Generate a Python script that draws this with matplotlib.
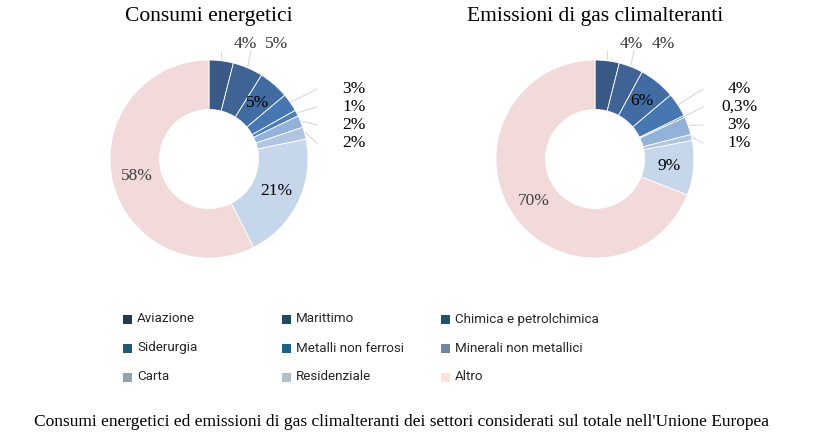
import matplotlib.pyplot as plt
from matplotlib.patches import Rectangle
from matplotlib import font_manager
import numpy as np

W, H = 832, 442

settori = ['Aviazione', 'Marittimo', 'Chimica e petrolchimica', 'Siderurgia',
           'Metalli non ferrosi', 'Minerali non metallici', 'Carta', 'Residenziale', 'Altro']
consumi = [4, 5, 5, 3, 1, 2, 2, 21, 58]
emissioni = [4, 4, 6, 4, 0.3, 3, 1, 9, 70]
etich_consumi = ['4%', '5%', '5%', '3%', '1%', '2%', '2%', '21%', '58%']
etich_emissioni = ['4%', '4%', '6%', '4%', '0,3%', '3%', '1%', '9%', '70%']

colori_fette = ['#3A5A85', '#3E6394', '#416CA3', '#4677B0', '#4B7DBA',
                '#93B2D9', '#AFC5E2', '#C6D6EB', '#F2D9DA']
colori_legenda = ['#1F3A56', '#1F4A66', '#1F5470', '#1F5A7B', '#1F6288',
                  '#6C88A0', '#8FA3B5', '#B4BFCB', '#FBE2DA']

serif = 'Liberation Serif'
sans = 'Roboto'
print(sorted({f.name for f in font_manager.fontManager.ttflist if 'Cond' in f.fname or 'Narrow' in f.fname}))
print(sorted({(f.name, f.stretch) for f in font_manager.fontManager.ttflist if 'DejaVu' in f.name or 'Liberation' in f.name}))

fig = plt.figure(figsize=(W / 100, H / 100), dpi=100)
R = 99


def donut(cx, cy, valori, etichette, titolo, x_lato, x_testo):
    left, right, top, bottom = cx - 200, cx + 200, cy - 158, cy + 135
    ax = fig.add_axes([left / W, 1 - bottom / H, (right - left) / W, (bottom - top) / H])
    ax.pie(valori, colors=colori_fette, startangle=90, counterclock=False, radius=1,
           wedgeprops=dict(width=0.5, edgecolor='white', linewidth=0.6))
    ax.set_xlim((left - cx) / R, (right - cx) / R)
    ax.set_ylim((cy - bottom) / R, (cy - top) / R)
    ax.set_aspect('auto')
    ax.axis('off')

    def d(px, py):
        return (px - cx) / R, (cy - py) / R

    v = np.array(valori, dtype=float)
    cum = np.cumsum(v) - v / 2
    ang = np.radians(cum / v.sum() * 360)  # senso orario dall'alto
    sx, sy = np.sin(ang), np.cos(ang)

    # etichette interne
    for i in [2, 7, 8]:
        col = '#404040' if i == 8 else 'black'
        ax.text(0.75 * sx[i], 0.75 * sy[i], etichette[i], ha='center', va='center',
                fontsize=12.5, family=serif, color=col)
    # etichette in alto (prime due fette)
    for i, (tx, dx_line) in enumerate([(cx + 36, 0), (cx + 68, 3)]):
        x1, y1 = d(cx + R * sx[i] + dx_line, 51)
        ax.plot([sx[i], x1], [sy[i] * 1.02, y1], color='#D9D9D9', lw=0.8)
        ax.text(*d(tx, 44), etichette[i], ha='center', va='center', fontsize=12.5,
                family=serif, color='#333333')
    # etichette a destra
    for k, i in enumerate([3, 4, 5, 6]):
        ly = 89 + 18 * k
        x1, y1 = d(x_lato, ly)
        ax.plot([sx[i] * 1.01, x1], [sy[i] * 1.01, y1], color='#D9D9D9', lw=0.8)
        ax.text(*d(x_testo, ly), etichette[i], ha='center', va='center', fontsize=12.5,
                family=serif, color='black')
    fig.text(cx / W, 1 - 17 / H, titolo, ha='center', va='center', fontsize=15.5,
             family=serif, color='black')


donut(209, 159, consumi, etich_consumi, 'Consumi energetici', 317, 354)
donut(595, 159, emissioni, etich_emissioni, 'Emissioni di gas climalteranti', 703, 739)

# legenda
col_x = [127, 286, 445]
row_y = [319, 348, 377]
for i, (nome, c) in enumerate(zip(settori, colori_legenda)):
    px, py = col_x[i % 3], row_y[i // 3]
    fig.patches.append(Rectangle(((px - 4.5) / W, 1 - (py + 4.5) / H), 9 / W, 9 / H,
                                 transform=fig.transFigure, facecolor=c, edgecolor='none'))
    fig.text((px + 10) / W, 1 - py / H, nome, ha='left', va='center', fontsize=9.6,
             family=sans, color='#262626')

fig.text(401 / W, 1 - 422 / H,
         "Consumi energetici ed emissioni di gas climalteranti dei settori considerati sul totale nell'Unione Europea",
         ha='center', va='center', fontsize=12.5, family=serif, color='black')

fig.savefig('out.png', dpi=100, facecolor='white')
